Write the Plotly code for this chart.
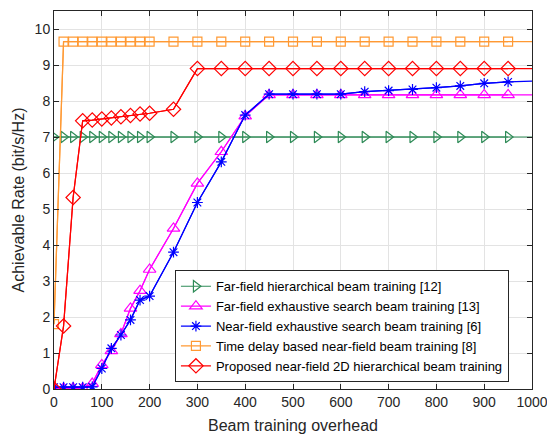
import plotly.graph_objects as go

x_vals = [0, 20, 40, 60, 80, 100, 120, 140, 160, 180, 200, 250, 300, 350, 400, 450,
          500, 550, 600, 650, 700, 750, 800, 850, 900, 950, 1000]

far_hier = [7.0] * 27
far_exh = [0.02, 0.02, 0.02, 0.02, 0.15, 0.67, 1.06, 1.53, 2.24, 2.73, 3.32, 4.46, 5.71, 6.59,
           7.58, 8.17, 8.17, 8.17, 8.17, 8.17, 8.17, 8.17, 8.17, 8.17, 8.17, 8.17, 8.17]
near_exh = [0.05, 0.05, 0.05, 0.05, 0.06, 0.57, 1.13, 1.5, 1.92, 2.47, 2.58, 3.8, 5.18, 6.31,
            7.61, 8.19, 8.19, 8.19, 8.19, 8.26, 8.29, 8.32, 8.37, 8.42, 8.49, 8.53, 8.55]
time_delay = [1.8] + [9.65] * 26
proposed = [0.0, 1.75, 5.32, 7.45, 7.47, 7.5, 7.53, 7.56, 7.6, 7.64, 7.66, 7.77, 8.9, 8.9,
            8.9, 8.9, 8.9, 8.9, 8.9, 8.9, 8.9, 8.9, 8.9, 8.9, 8.9, 8.9, 8.9]

x_ticks = [0, 100, 200, 300, 400, 500, 600, 700, 800, 900, 1000]
y_ticks = [0, 1, 2, 3, 4, 5, 6, 7, 8, 9, 10]

names = ["Far-field hierarchical beam training [12]",
         "Far-field exhaustive search beam training [13]",
         "Near-field exhaustive search beam training [6]",
         "Time delay based near-field beam training [8]",
         "Proposed near-field 2D hierarchical beam training"]

series = [far_hier, far_exh, near_exh, time_delay, proposed]
colors = ["#2E8B57", "#FF00FF", "#0000FF", "#FF9933", "#FF0000"]
symbols = ["triangle-right-open", "triangle-up-open", "asterisk-open", "square-open", "diamond-open"]
msizes = [10, 11, 9, 9, 11]

FONT = "Liberation Sans, Arial"

fig = go.Figure()
for name, ys, c, s, ms in zip(names, series, colors, symbols, msizes):
    # full line (extends to the axis edge, no markers)
    fig.add_trace(go.Scatter(
        x=x_vals, y=ys, mode="lines", showlegend=False, hoverinfo="skip",
        line=dict(color=c, width=1.2),
    ))
    # marked points (last x has no marker in the reference)
    fig.add_trace(go.Scatter(
        x=x_vals[:-1], y=ys[:-1], name=name, mode="lines+markers",
        line=dict(color=c, width=1.2),
        marker=dict(symbol=s, size=ms, color=c, line=dict(color=c, width=1.2)),
    ))

axis_common = dict(
    showline=True, linecolor="#262626", linewidth=1, mirror="ticks",
    ticks="inside", ticklen=5, tickcolor="#262626",
    showgrid=True, gridcolor="#E3E3E3", gridwidth=1, zeroline=False,
    automargin=False, ticklabeloverflow="allow",
    tickfont=dict(family=FONT, size=14, color="#262626"),
)

fig.update_xaxes(range=[0, 1000], tickvals=x_ticks,
                 title=dict(text="Beam training overhead", standoff=11,
                            font=dict(family=FONT, size=16, color="#262626")),
                 **axis_common)
fig.update_yaxes(range=[0, 10.5], tickvals=y_ticks,
                 title=dict(text="Achievable Rate (bit/s/Hz)", standoff=6,
                            font=dict(family=FONT, size=16, color="#262626")),
                 **axis_common)

fig.update_layout(
    width=547, height=437,
    margin=dict(l=54, r=15, t=11, b=48),
    plot_bgcolor="white", paper_bgcolor="white",
    font=dict(family=FONT, color="#262626"),
    legend=dict(x=0.253, y=0.314, xanchor="left", yanchor="top",
                bgcolor="white", bordercolor="#262626", borderwidth=1,
                font=dict(size=13, color="#000000"), tracegroupgap=0),
    showlegend=True,
)

fig.write_html("out.html", config={"displayModeBar": False},
               post_script="document.body.style.margin='0';document.body.style.padding='0';")
